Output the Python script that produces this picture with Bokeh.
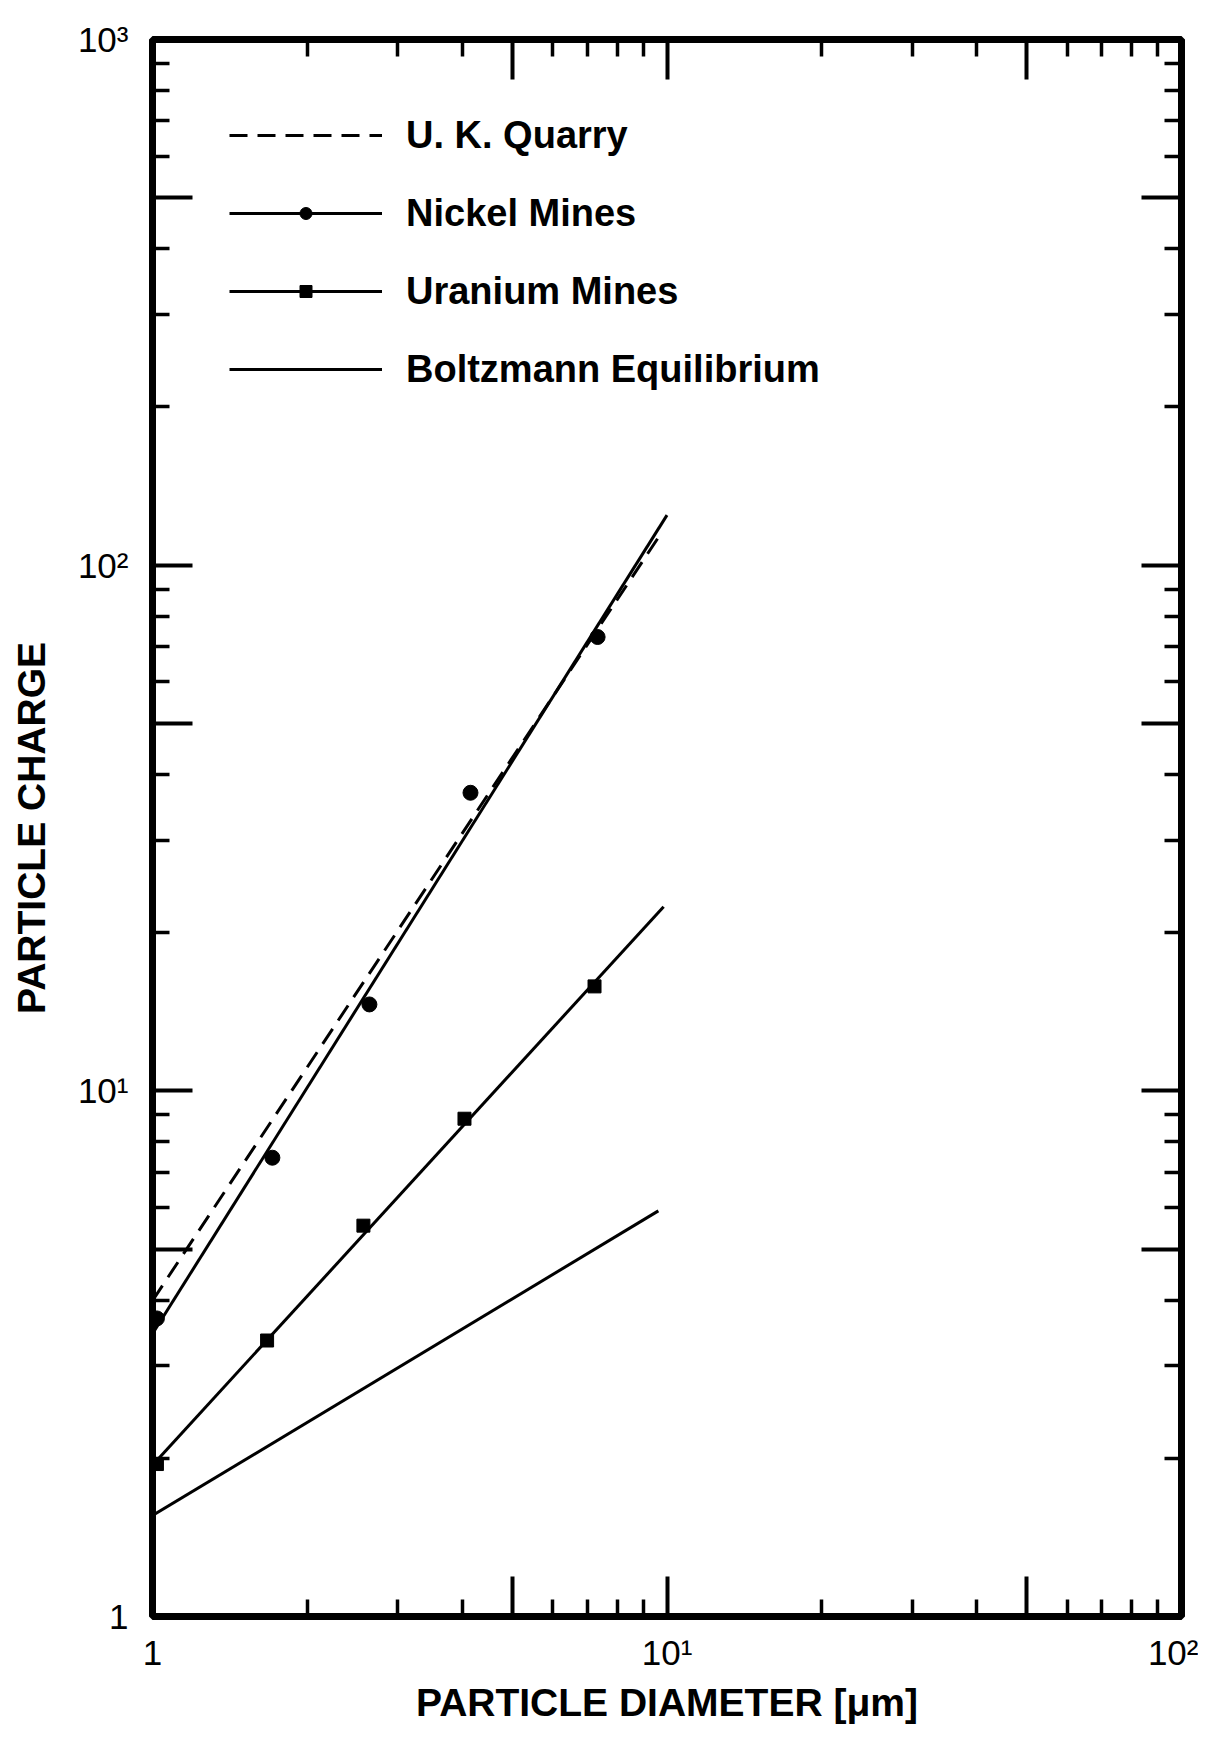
from bokeh.plotting import figure
from bokeh.models import (Range1d, LogAxis, FixedTicker, Legend, LegendItem,
                          CustomLabelingPolicy)
from bokeh.embed import file_html
from bokeh.resources import INLINE

# ---- data ----
nickel_diam = [1.02, 1.71, 2.64, 4.15, 7.33]
nickel_charge = [3.69, 7.46, 14.6, 36.9, 73.0]
uranium_diam = [1.02, 1.67, 2.57, 4.04, 7.23]
uranium_charge = [1.95, 3.35, 5.54, 8.85, 15.8]

nickel_fit_diam = [1.0, 10.0]
nickel_fit_charge = [3.45, 124.5]
uk_fit_diam = [1.0, 9.8]
uk_fit_charge = [3.99, 116.0]
uranium_fit_diam = [1.0, 9.85]
uranium_fit_charge = [1.94, 22.4]
boltz_diam = [1.0, 9.62]
boltz_charge = [1.556, 5.91]

x_major = [1, 5, 10, 50, 100]
x_minor = [2, 3, 4, 6, 7, 8, 9, 20, 30, 40, 60, 70, 80, 90]
y_major = [1, 5, 10, 50, 100, 500, 1000]
y_minor = [2, 3, 4, 6, 7, 8, 9, 20, 30, 40, 60, 70, 80, 90,
           200, 300, 400, 600, 700, 800, 900]
x_labels = {1: "1", 10: "10¹", 100: "10²"}
y_labels = {1: "1", 10: "10¹", 100: "10²", 1000: "10³"}

FONT = "Liberation Sans"

p = figure(width=1198, height=1728, x_axis_type="log", y_axis_type="log",
           x_range=Range1d(1, 100), y_range=Range1d(1, 1000),
           output_backend="svg", toolbar_location=None,
           min_border_left=152, min_border_right=17,
           min_border_top=39, min_border_bottom=112)
p.grid.visible = False
p.outline_line_color = "black"
p.outline_line_width = 7
p.background_fill_color = "white"
p.border_fill_color = "white"

# show labels only on the decade ticks (even indices), none on top/right
decades_only = CustomLabelingPolicy(code="""
const out = [];
for (let i = 0; i < indices.size; i += 2) { out.push(i); }
return out;
""")
no_labels = CustomLabelingPolicy(code="return [];")


def style_axis(ax, major, minor, labels, show_labels):
    ax.ticker = FixedTicker(ticks=major, minor_ticks=minor)
    ax.axis_line_color = None
    ax.major_tick_in = 40
    ax.major_tick_out = 0
    ax.minor_tick_in = 17
    ax.minor_tick_out = 0
    ax.major_tick_line_width = 4
    ax.minor_tick_line_width = 3.5
    ax.major_tick_line_color = "black"
    ax.minor_tick_line_color = "black"
    if show_labels:
        ax.major_label_overrides = labels
        ax.major_label_policy = decades_only
        ax.major_label_text_font = FONT
        ax.major_label_text_font_size = "35px"
        ax.major_label_text_color = "black"
    else:
        ax.major_label_policy = no_labels
        ax.major_label_text_font_size = "2px"
        ax.major_label_standoff = 0


xa = p.xaxis[0]
ya = p.yaxis[0]
style_axis(xa, x_major, x_minor, x_labels, True)
style_axis(ya, y_major, y_minor, y_labels, True)
xa.major_label_standoff = 16
ya.major_label_standoff = 24

xa.axis_label = "PARTICLE DIAMETER [μm]"
ya.axis_label = "PARTICLE CHARGE"
for ax in (xa, ya):
    ax.axis_label_text_font = FONT
    ax.axis_label_text_font_size = "39px"
    ax.axis_label_text_font_style = "bold"
    ax.axis_label_text_color = "black"
xa.axis_label_standoff = 6
ya.axis_label_standoff = 14

top_ax = LogAxis()
right_ax = LogAxis()
style_axis(top_ax, x_major, x_minor, x_labels, False)
style_axis(right_ax, y_major, y_minor, y_labels, False)
p.add_layout(top_ax, "above")
p.add_layout(right_ax, "right")

r_uk = p.line(uk_fit_diam, uk_fit_charge, line_color="black", line_width=3,
              line_dash="18 10")
r_ni_line = p.line(nickel_fit_diam, nickel_fit_charge, line_color="black", line_width=3)
r_ni_pts = p.scatter(nickel_diam, nickel_charge, marker="circle", size=15,
                     fill_color="black", line_color="black")
r_u_line = p.line(uranium_fit_diam, uranium_fit_charge, line_color="black", line_width=3)
r_u_pts = p.scatter(uranium_diam, uranium_charge, marker="square", size=13,
                    fill_color="black", line_color="black")
r_b = p.line(boltz_diam, boltz_charge, line_color="black", line_width=3)

legend = Legend(items=[
    LegendItem(label="U. K. Quarry", renderers=[r_uk]),
    LegendItem(label="Nickel Mines", renderers=[r_ni_line, r_ni_pts]),
    LegendItem(label="Uranium Mines", renderers=[r_u_line, r_u_pts]),
    LegendItem(label="Boltzmann Equilibrium", renderers=[r_b]),
], location=(77, 1225))
legend.glyph_width = 153
legend.glyph_height = 30
legend.label_height = 44
legend.spacing = 34
legend.padding = 0
legend.margin = 0
legend.label_standoff = 24
legend.label_text_font = FONT
legend.label_text_font_size = "38px"
legend.label_text_font_style = "bold"
legend.label_text_color = "black"
legend.border_line_color = None
legend.background_fill_alpha = 0
p.add_layout(legend)

open("out.html", "w").write(file_html(p, INLINE))
